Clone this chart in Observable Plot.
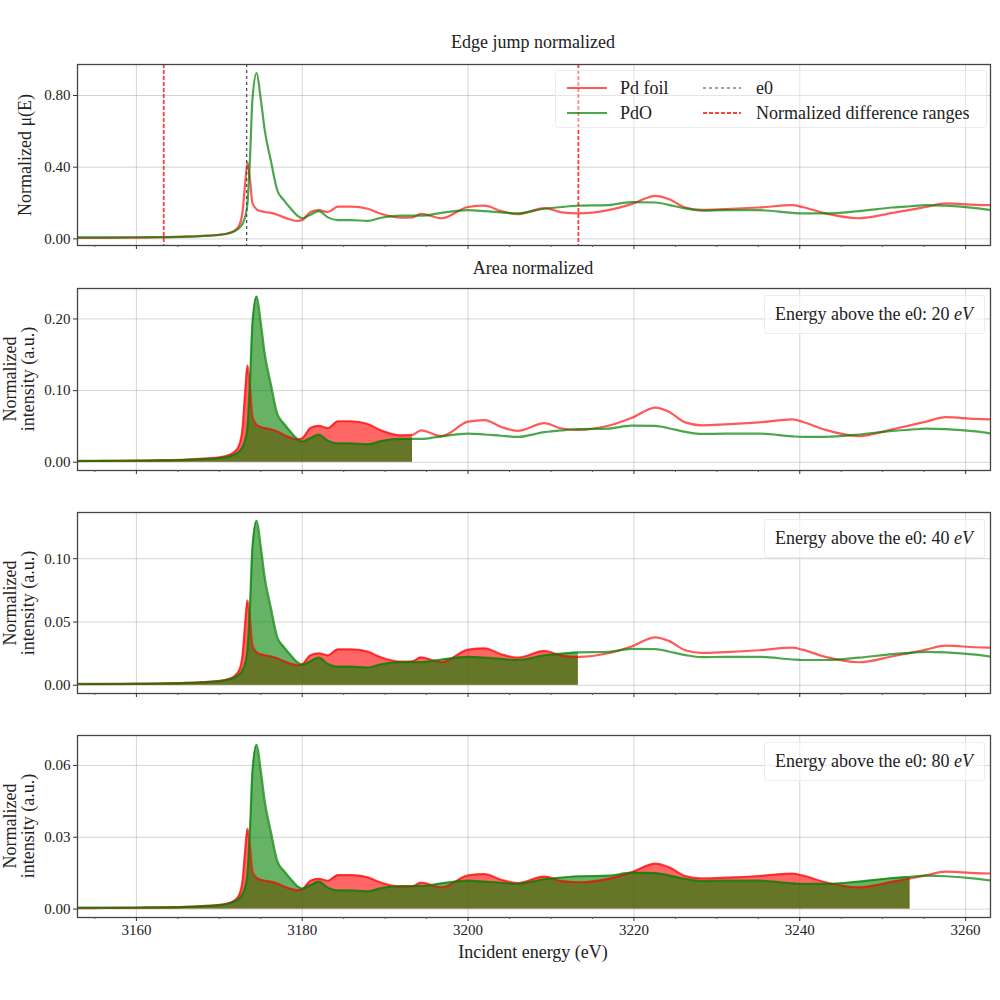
<!DOCTYPE html>
<html>
<head>
<meta charset="utf-8">
<script src="https://cdn.jsdelivr.net/npm/d3@7"></script>
<script src="https://cdn.jsdelivr.net/npm/@observablehq/plot@0.6"></script>
<style>
  html, body { margin: 0; padding: 0; background: #fff; }
  #root { position: relative; width: 1000px; height: 1000px; font-family: "Liberation Serif", "Times New Roman", serif; color: #222; overflow: hidden; }
  #root svg { position: absolute; left: 0; }
  .lbl { position: absolute; white-space: nowrap; font-size: 18px; line-height: 1; }
  .box { position: absolute; border: 1px solid #ececec; border-radius: 3px; background: rgba(255,255,255,0.6); font-size: 18px; white-space: nowrap; }
</style>
</head>
<body>
<div id="root"></div>
<script>
// ---------------- data ----------------
const energy = [3153, 3156, 3160, 3163, 3166, 3168, 3170, 3171, 3171.8, 3172.4, 3172.8, 3173.1, 3173.4, 3173.7, 3174.0, 3174.5, 3175.0, 3175.5, 3176.2, 3177.0, 3177.8, 3178.6, 3179.4, 3180.0, 3181.0, 3182.0, 3183.1, 3184.3, 3185.9, 3187.9, 3189.5, 3191.9, 3193.3, 3194.3, 3196.8, 3200.0, 3202.0, 3204.0, 3206.0, 3209.2, 3211.3, 3213.3, 3216.9, 3219.7, 3222.6, 3224.2, 3226.2, 3228.2, 3231.0, 3235.1, 3239.1, 3240.3, 3243.1, 3247.1, 3251.2, 3253.3, 3255.2, 3257.6, 3261.2, 3263.5];
const pdFoil = [0.005, 0.006, 0.007, 0.009, 0.012, 0.016, 0.022, 0.030, 0.045, 0.075, 0.150, 0.300, 0.425, 0.330, 0.200, 0.165, 0.155, 0.150, 0.145, 0.135, 0.120, 0.108, 0.100, 0.105, 0.150, 0.160, 0.150, 0.180, 0.180, 0.168, 0.140, 0.118, 0.120, 0.140, 0.115, 0.178, 0.185, 0.155, 0.138, 0.172, 0.148, 0.142, 0.160, 0.194, 0.240, 0.222, 0.175, 0.162, 0.166, 0.175, 0.188, 0.178, 0.142, 0.115, 0.145, 0.162, 0.178, 0.198, 0.190, 0.188];
const pdo = [0.008, 0.008, 0.009, 0.010, 0.013, 0.017, 0.023, 0.030, 0.042, 0.060, 0.085, 0.120, 0.200, 0.450, 0.780, 0.925, 0.780, 0.600, 0.440, 0.270, 0.215, 0.170, 0.130, 0.115, 0.135, 0.155, 0.120, 0.105, 0.105, 0.100, 0.118, 0.130, 0.130, 0.130, 0.145, 0.160, 0.155, 0.148, 0.142, 0.168, 0.178, 0.185, 0.188, 0.205, 0.203, 0.190, 0.170, 0.158, 0.160, 0.160, 0.145, 0.142, 0.142, 0.155, 0.175, 0.182, 0.188, 0.185, 0.172, 0.158];
const e0 = 3173.3;
const diffRangeOffsets = [-10, 40];
const areaWindows = [20, 40, 80];
const pdFoilAreaScale = [0.318, 0.158, 0.079];
const pdoAreaScale = [0.250, 0.1405, 0.0742];
const xMajorTicks = [3160, 3180, 3200, 3220, 3240, 3260];
const xMinorTicks = [3155, 3165, 3170, 3175, 3185, 3190, 3195, 3205, 3210, 3215, 3225, 3230, 3235, 3245, 3250, 3255];
const yTicksEdge = [0, 0.4, 0.8];
const yTicksArea = [[0, 0.1, 0.2], [0, 0.05, 0.10], [0, 0.03, 0.06]];
const yDomainEdge = [-0.037, 0.973];
const yDomainsArea = [[-0.0115, 0.2425], [-0.0065, 0.1365], [-0.0035, 0.0725]];
const xDomain = [3152.9, 3263.0];
const seriesNames = ["Pd foil", "PdO"];
const seriesColors = ["red", "green"];

// ---------------- layout ----------------
const root = document.getElementById("root");
const W = 1000, mL = 77, mR = 10, mT = 10;
const frames = [[64, 245], [288, 470], [512, 693], [735, 917]];
const curve = "monotone-x";
const fmt2 = d3.format(".2f");

function addLabel(text, x, y, opts = {}) {
  const d = document.createElement("div");
  d.className = "lbl";
  d.innerHTML = text;
  d.style.left = x + "px";
  d.style.top = y + "px";
  d.style.transform = "translate(-50%,-50%)" + (opts.rotate ? " rotate(-90deg)" : "");
  if (opts.size) d.style.fontSize = opts.size + "px";
  root.appendChild(d);
}

function gridMarks(yTicks) {
  return [
    Plot.gridX(xMajorTicks, {stroke: "#b0b0b0", strokeOpacity: 0.55, strokeWidth: 1}),
    Plot.gridY(yTicks, {stroke: "#b0b0b0", strokeOpacity: 0.55, strokeWidth: 1}),
  ];
}
function frameAxes(yTicks, showXLabels) {
  return [
    Plot.frame({stroke: "#444", strokeWidth: 1.3}),
    Plot.axisY(yTicks, {tickSize: 4, tickPadding: 3, tickFormat: fmt2, label: null, stroke: "#333"}),
    Plot.axisX(xMajorTicks, {tickSize: 4, tickPadding: 3, tickFormat: showXLabels ? d3.format("d") : () => "", label: null, stroke: "#333"}),
    Plot.axisX(xMinorTicks, {tickSize: 2, tickFormat: () => "", label: null, stroke: "#555"})
  ];
}

const rows = energy.map((e, i) => ({e, pd: pdFoil[i], pdo: pdo[i]}));

// ---------- Panel 1: edge jump normalized ----------
{
  const [t, b] = frames[0];
  const mB = 10;
  const p = Plot.plot({
    width: W, height: mT + (b - t) + mB,
    marginLeft: mL, marginRight: mR, marginTop: mT, marginBottom: mB,
    style: {fontFamily: "Liberation Serif", fontSize: "15px", background: "transparent", overflow: "visible"},
    x: {domain: xDomain, label: null},
    y: {domain: yDomainEdge, label: null},
    marks: [
      ...gridMarks(yTicksEdge),
      Plot.lineY(rows, {x: "e", y: "pd", stroke: seriesColors[0], strokeOpacity: 0.65, strokeWidth: 2.2, curve, clip: true}),
      Plot.lineY(rows, {x: "e", y: "pdo", stroke: seriesColors[1], strokeOpacity: 0.7, strokeWidth: 2.2, curve, clip: true}),
      Plot.ruleX([e0], {stroke: "#444", strokeWidth: 1.2, strokeDasharray: "3,3"}),
      Plot.ruleX(diffRangeOffsets.map(o => e0 + o), {stroke: "red", strokeOpacity: 0.75, strokeWidth: 1.8, strokeDasharray: "4,2"}),
      ...frameAxes(yTicksEdge, false)
    ]
  });
  p.style.top = (t - mT) + "px";
  root.appendChild(p);
}

// ---------- Panels 2-4: area normalized ----------
areaWindows.forEach((N, k) => {
  const [t, b] = frames[k + 1];
  const last = k === areaWindows.length - 1;
  const mB = last ? 40 : 10;
  const data = rows.map(r => ({e: r.e, pd: r.pd * pdFoilAreaScale[k], pdo: r.pdo * pdoAreaScale[k]}));
  const filled = data.filter(r => r.e <= e0 + N + 1e-6);
  const p = Plot.plot({
    width: W, height: mT + (b - t) + mB,
    marginLeft: mL, marginRight: mR, marginTop: mT, marginBottom: mB,
    style: {fontFamily: "Liberation Serif", fontSize: "15px", background: "transparent", overflow: "visible"},
    x: {domain: xDomain, label: null},
    y: {domain: yDomainsArea[k], label: null},
    marks: [
      ...gridMarks(yTicksArea[k]),
      Plot.areaY(filled, {x: "e", y: "pd", fill: seriesColors[0], fillOpacity: 0.6, curve}),
      Plot.areaY(filled, {x: "e", y: "pdo", fill: seriesColors[1], fillOpacity: 0.6, curve}),
      Plot.lineY(data, {x: "e", y: "pd", stroke: seriesColors[0], strokeOpacity: 0.65, strokeWidth: 2.2, curve, clip: true}),
      Plot.lineY(data, {x: "e", y: "pdo", stroke: seriesColors[1], strokeOpacity: 0.7, strokeWidth: 2.2, curve, clip: true}),
      ...frameAxes(yTicksArea[k], last)
    ]
  });
  p.style.top = (t - mT) + "px";
  root.appendChild(p);

  // annotation box
  const box = document.createElement("div");
  box.className = "box";
  box.style.right = (W - 985) + "px";
  box.style.top = (t + 7) + "px";
  box.style.padding = "8px 11px 8px 10px";
  box.innerHTML = `Energy above the e0: ${N} <i>eV</i>`;
  root.appendChild(box);

  // y label (two lines)
  const cy = (t + b) / 2;
  addLabel("Normalized", 10, cy, {rotate: true});
  addLabel("intensity (a.u.)", 28, cy, {rotate: true});
});

// ---------- titles / labels ----------
addLabel("Edge jump normalized", 533, 42);
addLabel("Area normalized", 533, 268);
addLabel("Incident energy (eV)", 533, 952);
addLabel("Normalized μ(E)", 25, (frames[0][0] + frames[0][1]) / 2, {rotate: true});

// ---------- legend (panel 1) ----------
{
  const ns = "http://www.w3.org/2000/svg";
  const svg = document.createElementNS(ns, "svg");
  svg.setAttribute("width", 432); svg.setAttribute("height", 58);
  svg.style.left = "555px"; svg.style.top = "70px";
  svg.style.fontFamily = "Liberation Serif"; svg.style.fontSize = "18px";
  const add = (tag, attrs, text) => {
    const el = document.createElementNS(ns, tag);
    for (const k in attrs) el.setAttribute(k, attrs[k]);
    if (text) el.textContent = text;
    svg.appendChild(el); return el;
  };
  add("rect", {x: 0.5, y: 0.5, width: 431, height: 57, rx: 3, fill: "#fff", "fill-opacity": 0.4, stroke: "#ececec"});
  const rowsY = [18, 43];
  const items = [
    {x0: 12, x1: 52, tx: 65, y: rowsY[0], stroke: seriesColors[0], op: 0.65, w: 2.2, dash: null, text: seriesNames[0]},
    {x0: 12, x1: 52, tx: 65, y: rowsY[1], stroke: seriesColors[1], op: 0.7, w: 2.2, dash: null, text: seriesNames[1]},
    {x0: 148, x1: 186, tx: 201, y: rowsY[0], stroke: "#444", op: 1, w: 1.2, dash: "3,3", text: "e0"},
    {x0: 148, x1: 186, tx: 201, y: rowsY[1], stroke: "red", op: 0.75, w: 1.8, dash: "4,2", text: "Normalized difference ranges"},
  ];
  for (const it of items) {
    const a = {x1: it.x0, x2: it.x1, y1: it.y, y2: it.y, stroke: it.stroke, "stroke-opacity": it.op, "stroke-width": it.w};
    if (it.dash) a["stroke-dasharray"] = it.dash;
    add("line", a);
    add("text", {x: it.tx, y: it.y + 6, fill: "#222"}, it.text);
  }
  root.appendChild(svg);
}
</script>
</body>
</html>
